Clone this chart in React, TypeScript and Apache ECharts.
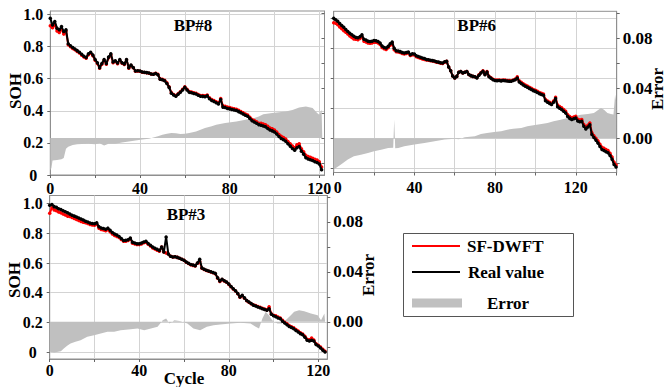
import React, { useEffect, useRef } from 'react';
import * as echarts from 'echarts';

// ---------------- data ----------------
const panelTitles = ['BP#8', 'BP#6', 'BP#3'];
const legendNames = ['SF-DWFT', 'Real value', 'Error'];
const sohTicks = [0, 0.2, 0.4, 0.6, 0.8, 1.0];
const errTicks = [-0.02, 0, 0.02, 0.04, 0.06, 0.08, 0.1];
const errLabels = [0, 0.04, 0.08];
const cycleTicks = [0, 20, 40, 60, 80, 100, 120, 140];
const cycleLabels = [0, 40, 80, 120];

// BP#8 (index = cycle)
const bp8Real = [
  0.977, 0.935, 0.956, 0.915, 0.905, 0.925, 0.894, 0.905, 0.818, 0.806,
  0.795, 0.785, 0.775, 0.765, 0.752, 0.74, 0.732, 0.755, 0.765, 0.748,
  0.72, 0.70, 0.669, 0.695, 0.72, 0.695, 0.735, 0.755, 0.704, 0.712,
  0.698, 0.72, 0.70, 0.692, 0.72, 0.669, 0.685, 0.67, 0.648, 0.65,
  0.648, 0.642, 0.64, 0.638, 0.635, 0.63, 0.628, 0.633, 0.625, 0.597,
  0.593, 0.587, 0.57, 0.546, 0.51, 0.498, 0.491, 0.503, 0.515, 0.53,
  0.546, 0.53, 0.515, 0.512, 0.508, 0.505, 0.497, 0.491, 0.49, 0.488,
  0.493, 0.475, 0.464, 0.458, 0.45, 0.443, 0.47, 0.423, 0.42, 0.415,
  0.412, 0.408, 0.405, 0.402, 0.395, 0.388, 0.38, 0.372, 0.366, 0.352,
  0.338, 0.33, 0.322, 0.314, 0.31, 0.305, 0.3, 0.29, 0.28, 0.275,
  0.268, 0.255, 0.24, 0.228, 0.22, 0.21, 0.195, 0.18, 0.165, 0.155,
  0.17, 0.178, 0.148, 0.13, 0.108, 0.1, 0.095, 0.09, 0.083, 0.078,
  0.068, 0.033,
];
const bp8Pred = [
  0.93, 0.918, 0.939, 0.898, 0.888, 0.908, 0.878, 0.897, 0.812, 0.8,
  0.789, 0.78, 0.77, 0.76, 0.747, 0.735, 0.727, 0.75, 0.76, 0.743,
  0.715, 0.695, 0.665, 0.69, 0.715, 0.69, 0.73, 0.75, 0.70, 0.708,
  0.693, 0.715, 0.697, 0.689, 0.717, 0.666, 0.682, 0.668, 0.646, 0.648,
  0.646, 0.64, 0.639, 0.637, 0.634, 0.629, 0.628, 0.634, 0.627, 0.599,
  0.596, 0.59, 0.574, 0.55, 0.514, 0.502, 0.495, 0.507, 0.519, 0.534,
  0.55, 0.534, 0.52, 0.517, 0.513, 0.51, 0.502, 0.496, 0.495, 0.494,
  0.499, 0.481, 0.47, 0.464, 0.456, 0.449, 0.476, 0.431, 0.428, 0.423,
  0.42, 0.416, 0.413, 0.41, 0.403, 0.396, 0.388, 0.38, 0.374, 0.36,
  0.346, 0.339, 0.331, 0.323, 0.323, 0.318, 0.313, 0.303, 0.293, 0.288,
  0.281, 0.268, 0.253, 0.241, 0.233, 0.224, 0.209, 0.195, 0.18, 0.17,
  0.188, 0.195, 0.163, 0.145, 0.123, 0.115, 0.11, 0.105, 0.098, 0.093,
  0.083, 0.05,
];
const bp8ErrCycles = [
  0, 0.5, 1, 3, 5, 6, 7, 8, 10, 12, 14, 17, 20, 22, 24, 26, 29, 32, 35, 38,
  41, 44, 46, 48, 50, 52, 54, 56, 58, 60, 62, 65, 69, 72, 74, 78, 83, 87, 91, 93,
  95, 99, 105, 108, 111, 114, 117, 119, 120, 121, 121.3,
];
const bp8ErrValues = [
  -0.026, -0.024, -0.018, -0.0176, -0.017, -0.016, -0.0085, -0.007, -0.0055, -0.005,
  -0.0048, -0.0045, -0.005, -0.0042, -0.006, -0.0045, -0.0045, -0.0035, -0.0027, -0.002,
  -0.0012, -0.0005, 0.0005, 0.0015, 0.0027, 0.0035, 0.004, 0.0038, 0.0032, 0.0035,
  0.004, 0.0053, 0.008, 0.0095, 0.0107, 0.012, 0.0133, 0.0147, 0.016, 0.0173,
  0.019, 0.02, 0.0213, 0.0225, 0.0245, 0.0253, 0.024, 0.02, 0.0187, 0.0227, 0.0227,
];

// BP#6 (index = cycle)
const bp6Real = [
  1.0, 0.99, 0.98, 0.965, 0.952, 0.94, 0.925, 0.913, 0.9, 0.89,
  0.88, 0.873, 0.87, 0.878, 0.89, 0.86, 0.855, 0.848, 0.846, 0.847,
  0.852, 0.85, 0.845, 0.835, 0.815, 0.806, 0.802, 0.813, 0.83, 0.842,
  0.8, 0.784, 0.782, 0.778, 0.772, 0.769, 0.772, 0.776, 0.758, 0.764,
  0.762, 0.75, 0.745, 0.74, 0.735, 0.732, 0.726, 0.724, 0.72, 0.718,
  0.715, 0.71, 0.708, 0.704, 0.702, 0.71, 0.713, 0.675, 0.65, 0.615,
  0.602, 0.613, 0.64, 0.645, 0.636, 0.64, 0.646, 0.626, 0.618, 0.613,
  0.61, 0.602, 0.62, 0.635, 0.647, 0.624, 0.642, 0.61, 0.6, 0.59,
  0.585, 0.584, 0.585, 0.583, 0.585, 0.584, 0.582, 0.581, 0.58, 0.585,
  0.591, 0.602, 0.575, 0.565, 0.555, 0.547, 0.54, 0.533, 0.526, 0.518,
  0.513, 0.505, 0.498, 0.492, 0.487, 0.45, 0.44, 0.433, 0.425, 0.44,
  0.465, 0.41, 0.4, 0.392, 0.38, 0.369, 0.345, 0.333, 0.325, 0.33,
  0.335, 0.315, 0.31, 0.313, 0.28, 0.262, 0.275, 0.29, 0.225, 0.205,
  0.188, 0.168, 0.145, 0.125, 0.118, 0.11, 0.104, 0.085, 0.06, 0.025,
  0.008,
];
const bp6Pred = [
  0.97, 0.968, 0.958, 0.943, 0.93, 0.918, 0.908, 0.896, 0.883, 0.873,
  0.863, 0.861, 0.858, 0.866, 0.878, 0.848, 0.843, 0.836, 0.834, 0.835,
  0.84, 0.841, 0.836, 0.826, 0.806, 0.797, 0.793, 0.804, 0.821, 0.833,
  0.791, 0.778, 0.776, 0.772, 0.766, 0.763, 0.766, 0.77, 0.752, 0.758,
  0.756, 0.744, 0.739, 0.734, 0.729, 0.726, 0.723, 0.721, 0.717, 0.715,
  0.712, 0.707, 0.705, 0.701, 0.699, 0.707, 0.713, 0.675, 0.65, 0.615,
  0.602, 0.613, 0.64, 0.645, 0.636, 0.64, 0.646, 0.626, 0.618, 0.613,
  0.61, 0.606, 0.624, 0.639, 0.651, 0.628, 0.646, 0.614, 0.604, 0.594,
  0.589, 0.588, 0.589, 0.587, 0.589, 0.588, 0.586, 0.585, 0.584, 0.589,
  0.595, 0.61, 0.583, 0.573, 0.563, 0.555, 0.548, 0.541, 0.534, 0.526,
  0.521, 0.513, 0.506, 0.5, 0.495, 0.458, 0.448, 0.441, 0.433, 0.448,
  0.473, 0.422, 0.412, 0.404, 0.392, 0.381, 0.357, 0.345, 0.337, 0.342,
  0.347, 0.327, 0.322, 0.325, 0.292, 0.274, 0.287, 0.302, 0.237, 0.217,
  0.2, 0.183, 0.16, 0.14, 0.133, 0.125, 0.119, 0.1, 0.075, 0.04,
  0.022,
];
const bp6ErrCycles = [
  0, 3.6, 7, 10, 13.5, 17, 20, 23.5, 27, 29.5, 30, 30.5, 32, 35, 40, 45, 50, 55, 60, 62,
  65, 70, 73, 76, 79.5, 83, 86, 89, 93, 96, 99, 103, 106, 109, 112.5, 116, 119, 122.5, 126, 129,
  132.5, 134, 135.7, 137.4, 138.7, 139.5, 140,
];
const bp6ErrValues = [
  -0.025, -0.021, -0.017, -0.0144, -0.0131, -0.0117, -0.0104, -0.0091, -0.0077, -0.0075,
  0.015, -0.008, -0.0077, -0.0064, -0.005, -0.0037, -0.0024, -0.001, -0.0003, -0.0008,
  0.0008, 0.0016, 0.0035, 0.0043, 0.0051, 0.0056, 0.0069, 0.0077, 0.0083, 0.0096,
  0.0104, 0.0115, 0.0123, 0.0136, 0.0149, 0.0163, 0.0176, 0.0189, 0.0195, 0.0203,
  0.0243, 0.0229, 0.0203, 0.0195, 0.019, 0.0349, 0.03,
];

// BP#3 (index = cycle)
const bp3Real = [
  0.99, 0.995, 0.98, 0.975, 0.966, 0.96, 0.952, 0.945, 0.938, 0.93,
  0.922, 0.916, 0.91, 0.903, 0.896, 0.89, 0.882, 0.876, 0.87, 0.866,
  0.865, 0.872, 0.845, 0.836, 0.832, 0.828, 0.835, 0.82, 0.805, 0.796,
  0.789, 0.778, 0.765, 0.752, 0.753, 0.757, 0.769, 0.74, 0.735, 0.73,
  0.73, 0.735, 0.742, 0.746, 0.732, 0.72, 0.708, 0.7, 0.692, 0.685,
  0.708, 0.674, 0.776, 0.66, 0.645, 0.641, 0.642, 0.638, 0.632, 0.625,
  0.618, 0.607, 0.598, 0.59, 0.586, 0.582, 0.6, 0.625, 0.566, 0.558,
  0.551, 0.546, 0.541, 0.536, 0.53, 0.5, 0.478, 0.49, 0.48, 0.472,
  0.458, 0.442, 0.427, 0.413, 0.395, 0.371, 0.382, 0.365, 0.348, 0.337,
  0.327, 0.316, 0.31, 0.304, 0.298, 0.292, 0.287, 0.281, 0.292, 0.255,
  0.245, 0.238, 0.23, 0.224, 0.208, 0.195, 0.184, 0.172, 0.165, 0.157,
  0.145, 0.135, 0.124, 0.116, 0.1, 0.08, 0.074, 0.08, 0.075, 0.05,
  0.04, 0.027, 0.012, 0.0,
];
const bp3Pred = [
  0.935, 0.973, 0.958, 0.953, 0.944, 0.938, 0.93, 0.923, 0.916, 0.914,
  0.906, 0.9, 0.894, 0.887, 0.88, 0.874, 0.872, 0.866, 0.86, 0.856,
  0.855, 0.862, 0.835, 0.826, 0.822, 0.818, 0.825, 0.81, 0.795, 0.786,
  0.779, 0.772, 0.759, 0.746, 0.747, 0.751, 0.763, 0.734, 0.729, 0.724,
  0.724, 0.729, 0.736, 0.74, 0.726, 0.714, 0.702, 0.694, 0.686, 0.679,
  0.708, 0.674, 0.668, 0.66, 0.645, 0.641, 0.642, 0.638, 0.632, 0.625,
  0.618, 0.605, 0.596, 0.588, 0.584, 0.58, 0.598, 0.61, 0.564, 0.556,
  0.549, 0.544, 0.539, 0.534, 0.528, 0.498, 0.476, 0.488, 0.478, 0.47,
  0.456, 0.44, 0.425, 0.411, 0.393, 0.369, 0.38, 0.363, 0.346, 0.335,
  0.325, 0.319, 0.313, 0.307, 0.301, 0.295, 0.29, 0.284, 0.305, 0.258,
  0.248, 0.244, 0.236, 0.23, 0.214, 0.201, 0.19, 0.178, 0.171, 0.163,
  0.151, 0.141, 0.13, 0.122, 0.106, 0.086, 0.082, 0.095, 0.081, 0.056,
  0.046, 0.033, 0.018, 0.005,
];
const bp3ErrCycles = [
  0, 2, 5, 6.3, 7.8, 9.3, 11.5, 13.8, 16.8, 19.8, 22.8, 25.8, 28.8, 31.7, 36.2, 39.2, 42.2, 45.2, 48.2, 50.5,
  52, 53.5, 55.7, 58.7, 61.5, 64.2, 67.2, 70.2, 73.2, 76.2, 80.7, 85.2, 89.7, 92, 93.5, 95, 96.5, 97.9, 99.4, 101.7,
  103.9, 106.2, 107.7, 109.2, 111.4, 113.7, 116.7, 119.7, 121.2, 122.7, 123,
];
const bp3ErrValues = [
  -0.024, -0.0245, -0.0235, -0.0213, -0.0192, -0.0173, -0.016, -0.0147, -0.012, -0.0107,
  -0.0093, -0.008, -0.008, -0.0067, -0.0059, -0.0053, -0.0067, -0.0053, -0.004, 0.0013,
  0.0027, -0.0013, 0.0013, 0.0005, -0.0013, -0.0053, -0.0067, -0.004, -0.0027, -0.0021,
  -0.0013, -0.0008, -0.0013, -0.004, -0.0053, 0.0027, 0.008, 0.0053, 0.0013, -0.0013,
  -0.0013, 0.0027, 0.0053, 0.008, 0.0093, 0.0085, 0.0067, 0.0053, 0.0013, 0.0067, 0.0067,
];

// ---------------- styling / layout ----------------
const FONT = 'Liberation Serif';
const FRAME = '#8f8f8f';
const GRIDLINE = '#d3d3d3';
const ERR_FILL = '#c0c0c0';

const panels = [
  {
    real: bp8Real, pred: bp8Pred, errC: bp8ErrCycles, errV: bp8ErrValues,
    box: { left: 50.3, top: 11, width: 274.2, height: 164 },
    xMax: 122.3, soh: [0, 1.022], err: [-0.0296, 0.1016],
    sohLabels: true, errLabels: false, errTickInside: true, xMargin: 5, alignMin: 'center',
  },
  {
    real: bp6Real, pred: bp6Pred, errC: bp6ErrCycles, errV: bp6ErrValues,
    box: { left: 333.7, top: 11.3, width: 283, height: 161.2 },
    xMax: 140.3, soh: [-0.028, 1.047], err: [-0.0274, 0.1016],
    sohLabels: false, errLabels: true, errTickInside: false, xMargin: 7, alignMin: 'left',
  },
  {
    real: bp3Real, pred: bp3Pred, errC: bp3ErrCycles, errV: bp3ErrValues,
    box: { left: 49.7, top: 195.5, width: 277.6, height: 163.5 },
    xMax: 124, soh: [-0.047, 1.055], err: [-0.0298, 0.101],
    sohLabels: true, errLabels: true, errTickInside: false, xMargin: 3, alignMin: 'center',
  },
];

const labelFont = { fontFamily: FONT, fontWeight: 'bold' as const, color: '#000' };

function txt(text: string, x: number, y: number, size: number, align: string, rotate = 0) {
  return {
    type: 'text',
    x,
    y,
    rotation: rotate,
    z: 100,
    style: {
      text,
      fill: '#000',
      fontFamily: FONT,
      fontWeight: 'bold',
      fontSize: size,
      align,
      verticalAlign: 'middle',
      textAlign: align,
      textVerticalAlign: 'middle',
    },
  };
}

function buildOption() {
  const grid = panels.map((p) => ({
    ...p.box,
    show: true,
    borderColor: FRAME,
    borderWidth: 1,
    containLabel: false,
    outerBoundsMode: 'none',
  }));

  const xAxis = panels.map((p, i) => ({
    type: 'value',
    gridIndex: i,
    min: 0,
    max: p.xMax,
    interval: 20,
    axisLine: { show: true, onZero: false, lineStyle: { color: FRAME } },
    axisTick: {
      show: true,
      length: 3,
      customValues: cycleTicks.filter((v) => v <= p.xMax),
      lineStyle: { color: '#666' },
    },
    axisLabel: {
      ...labelFont,
      fontSize: 16,
      margin: p.xMargin,
      customValues: cycleLabels,
      alignMinLabel: p.alignMin,
      formatter: (v: number) => String(Math.round(v)),
    },
    splitLine: { show: true, lineStyle: { color: GRIDLINE, width: 1 } },
  }));

  const yAxis: any[] = [];
  panels.forEach((p, i) => {
    yAxis.push({
      type: 'value',
      gridIndex: i,
      position: 'left',
      min: p.soh[0],
      max: p.soh[1],
      splitNumber: 5,
      axisLine: { show: true, onZero: false, lineStyle: { color: FRAME } },
      axisTick: { show: true, length: 3, customValues: sohTicks, lineStyle: { color: '#666' } },
      axisLabel: {
        show: p.sohLabels,
        ...labelFont,
        fontSize: 16,
        align: 'center',
        margin: 17,
        customValues: sohTicks,
        formatter: (v: number) => (Math.abs(v) < 1e-9 ? '0' : v.toFixed(1)),
      },
      splitLine: { show: true, lineStyle: { color: GRIDLINE, width: 1 } },
    });
    yAxis.push({
      type: 'value',
      gridIndex: i,
      position: 'right',
      min: p.err[0],
      max: p.err[1],
      axisLine: { show: true, onZero: false, lineStyle: { color: FRAME } },
      axisTick: {
        show: true,
        inside: p.errTickInside,
        length: 3,
        customValues: errTicks,
        lineStyle: { color: '#666' },
      },
      axisLabel: {
        show: p.errLabels,
        ...labelFont,
        fontSize: 17,
        margin: 6,
        customValues: errLabels,
        formatter: (v: number) => (Math.abs(v) < 1e-9 ? '0.00' : v.toFixed(2)),
      },
      splitLine: { show: false },
    });
  });

  const series: any[] = [];
  panels.forEach((p, i) => {
    series.push({
      name: legendNames[2],
      type: 'line',
      xAxisIndex: i,
      yAxisIndex: 2 * i + 1,
      data: p.errC.map((c, k) => [c, p.errV[k]]),
      symbol: 'none',
      lineStyle: { width: 0, color: ERR_FILL },
      itemStyle: { color: ERR_FILL },
      areaStyle: { color: ERR_FILL, opacity: 1 },
      silent: true,
      z: 1,
    });
    series.push({
      name: legendNames[0],
      type: 'line',
      xAxisIndex: i,
      yAxisIndex: 2 * i,
      data: p.pred.map((v, c) => [c, v]),
      symbol: 'circle',
      symbolSize: 3.5,
      showAllSymbol: true,
      lineStyle: { width: 2, color: '#ff0000' },
      itemStyle: { color: '#ff0000' },
      z: 2,
    });
    series.push({
      name: legendNames[1],
      type: 'line',
      xAxisIndex: i,
      yAxisIndex: 2 * i,
      data: p.real.map((v, c) => [c, v]),
      symbol: 'circle',
      symbolSize: 3.5,
      showAllSymbol: true,
      lineStyle: { width: 2, color: '#000000' },
      itemStyle: { color: '#000000' },
      z: 3,
    });
  });

  const graphic: any[] = [
    txt(panelTitles[0], 193, 25, 17, 'center'),
    txt(panelTitles[1], 476.7, 25, 17, 'center'),
    txt(panelTitles[2], 186, 214, 17, 'center'),
    txt('SOH', 15.3, 91, 17, 'center', Math.PI / 2),
    txt('SOH', 14.2, 280, 17, 'center', Math.PI / 2),
    txt('Error', 657, 89, 17, 'center', Math.PI / 2),
    txt('Error', 368.7, 275, 17, 'center', Math.PI / 2),
    txt('Cycle', 184, 378.5, 17, 'center'),
    // legend box
    {
      type: 'rect',
      z: 90,
      shape: { x: 403.5, y: 233.5, width: 170, height: 83 },
      style: { fill: '#ffffff', stroke: '#555555', lineWidth: 1 },
    },
    {
      type: 'line',
      z: 100,
      shape: { x1: 412, y1: 246, x2: 460, y2: 246 },
      style: { stroke: '#ff0000', lineWidth: 2 },
    },
    txt(legendNames[0], 467, 246, 17, 'left'),
    {
      type: 'line',
      z: 100,
      shape: { x1: 412, y1: 272, x2: 460, y2: 272 },
      style: { stroke: '#000000', lineWidth: 2 },
    },
    txt(legendNames[1], 468, 272, 17, 'left'),
    {
      type: 'rect',
      z: 100,
      shape: { x: 412, y: 298.5, width: 50, height: 9 },
      style: { fill: ERR_FILL },
    },
    txt(legendNames[2], 487, 303, 17, 'left'),
  ];

  return {
    animation: false,
    backgroundColor: '#ffffff',
    grid,
    xAxis,
    yAxis,
    series,
    graphic,
  };
}

export default function App() {
  const ref = useRef<HTMLDivElement>(null);
  useEffect(() => {
    if (!ref.current) return;
    const chart = echarts.init(ref.current, undefined, { renderer: 'svg' });
    chart.setOption(buildOption() as any);
    return () => chart.dispose();
  }, []);
  return (
    <div
      ref={ref}
      style={{ position: 'absolute', left: 0, top: 0, width: 666, height: 387 }}
    />
  );
}
